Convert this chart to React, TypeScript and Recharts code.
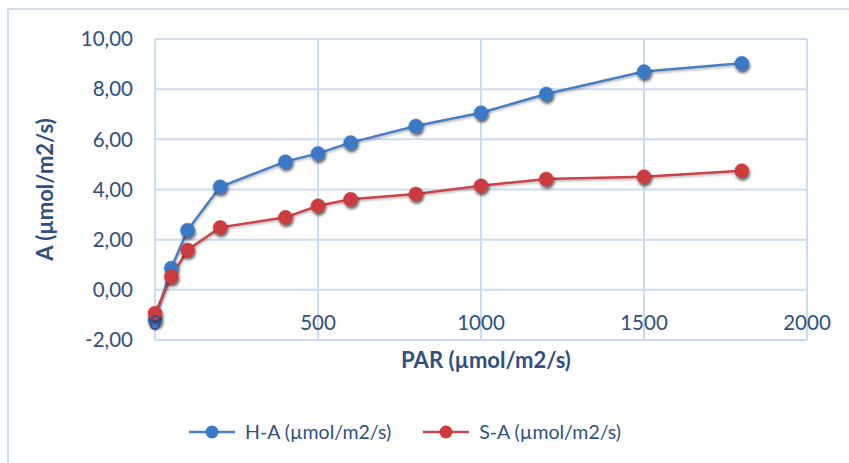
import React from 'react';
import { LineChart, Line, XAxis, YAxis, CartesianGrid, Legend } from 'recharts';

const parValues = [0, 50, 100, 200, 400, 500, 600, 800, 1000, 1200, 1500, 1800];
const hA = [-1.2, 0.87, 2.38, 4.11, 5.11, 5.44, 5.87, 6.53, 7.06, 7.81, 8.7, 9.03];
const sA = [-0.93, 0.52, 1.59, 2.49, 2.89, 3.35, 3.61, 3.82, 4.15, 4.42, 4.51, 4.75];
const xTicks = [0, 500, 1000, 1500, 2000];
const yTicks = [-2, 0, 2, 4, 6, 8, 10];
const seriesNames = ['H-A (µmol/m2/s)', 'S-A (µmol/m2/s)'];
const xTitle = 'PAR (µmol/m2/s)';
const yTitle = 'A (µmol/m2/s)';

const data = parValues.map((p, i) => ({ par: p, h: hA[i], s: sA[i] }));

const BLUE_LINE = '#4A7EC2';
const BLUE_DOT = '#3B78C6';
const RED_LINE = '#C9444A';
const RED_DOT = '#CC3A3C';
const GRID = '#C9DCF2';
const TEXT = '#2F5082';
const FONT = 'Lato, "Open Sans", sans-serif';

const makeDot = (fill: string) => (props: any) => {
  const { cx, cy, index } = props;
  if (cx == null || cy == null) return <g key={index} />;
  return (
    <circle key={index} cx={cx} cy={cy} r={7} fill={fill} stroke={fill} strokeWidth={0.5} filter="url(#dotShadow)" />
  );
};

const XTick = (props: any) => {
  const { x, y, payload } = props;
  return (
    <text x={x} y={y - 10} textAnchor="middle" fill={TEXT} fontSize={20.5} fontFamily={FONT}>
      {payload.value}
    </text>
  );
};

const LegendContent = () => {
  const items = [
    { name: seriesNames[0], line: BLUE_LINE, dot: BLUE_DOT },
    { name: seriesNames[1], line: RED_LINE, dot: RED_DOT },
  ];
  return (
    <div style={{ display: 'flex', alignItems: 'center', fontFamily: FONT, fontSize: 19.5, color: TEXT }}>
      {items.map((it, i) => (
        <div key={i} style={{ display: 'flex', alignItems: 'center', marginRight: i === 0 ? 32 : 0 }}>
          <svg width={46} height={16} style={{ marginRight: 10 }}>
            <line x1={0} y1={8} x2={46} y2={8} stroke={it.line} strokeWidth={2.5} />
            <circle cx={23} cy={8} r={6.5} fill={it.dot} />
          </svg>
          <span>{it.name}</span>
        </div>
      ))}
    </div>
  );
};

export default function App() {
  return (
    <div style={{ position: 'absolute', left: 0, top: 0, width: 849, height: 463, background: '#fff' }}>
      <svg width={0} height={0} style={{ position: 'absolute' }}>
        <defs>
          <filter id="dotShadow" x="-50%" y="-50%" width="200%" height="200%">
            <feDropShadow dx="1" dy="2.5" stdDeviation="1.8" floodColor="#000" floodOpacity="0.65" />
          </filter>
          <filter id="lineShadow" x="-10%" y="-10%" width="120%" height="120%">
            <feDropShadow dx="0.5" dy="1.5" stdDeviation="1" floodColor="#000" floodOpacity="0.3" />
          </filter>
        </defs>
      </svg>
      <style>{`.recharts-line-curve { filter: url(#lineShadow); }`}</style>
      <div style={{ position: 'absolute', left: 7, top: 8, width: 842, height: 455, borderLeft: `2px solid ${GRID}`, borderTop: `2px solid ${GRID}` }} />
      <div style={{ position: 'absolute', left: 0, top: 0 }}>
        <LineChart width={849} height={463} data={data} margin={{ top: 39, right: 42, bottom: 93, left: 0 }}>
          <CartesianGrid stroke={GRID} strokeWidth={2} vertical={true} horizontal={true} />
          <XAxis
            dataKey="par"
            type="number"
            domain={[0, 2000]}
            ticks={xTicks}
            axisLine={false}
            tickLine={false}
            tickSize={0}
            tickMargin={0}
            height={30}
            tick={<XTick />}
            interval={0}
            label={{ value: xTitle, position: 'center', dx: 5, dy: 5, fill: TEXT, fontSize: 22, fontWeight: 700, fontFamily: FONT }}
          />
          <YAxis
            type="number"
            domain={[-2, 10]}
            ticks={yTicks}
            width={155}
            interval={0}
            axisLine={{ stroke: GRID, strokeWidth: 2 }}
            tickLine={false}
            tickSize={6}
            tickMargin={16}
            tickFormatter={(v: number) => v.toFixed(2).replace('.', ',')}
            tick={{ fill: TEXT, fontSize: 20.5, fontFamily: FONT }}
            label={{ value: yTitle, angle: -90, position: 'center', dx: -32, fill: TEXT, fontSize: 22, fontWeight: 700, fontFamily: FONT }}
          />
          <Legend
            layout="horizontal"
            verticalAlign="middle"
            align="center"
            content={<LegendContent />}
            wrapperStyle={{ position: 'absolute', left: 189, top: 420, width: 'auto' }}
          />
          <Line
            type="linear"
            dataKey="h"
            name={seriesNames[0]}
            stroke={BLUE_LINE}
            strokeWidth={2.5}
            dot={makeDot(BLUE_DOT)}
            activeDot={false}
            isAnimationActive={false}
          />
          <Line
            type="linear"
            dataKey="s"
            name={seriesNames[1]}
            stroke={RED_LINE}
            strokeWidth={2.5}
            dot={makeDot(RED_DOT)}
            activeDot={false}
            isAnimationActive={false}
          />
        </LineChart>
      </div>
    </div>
  );
}
